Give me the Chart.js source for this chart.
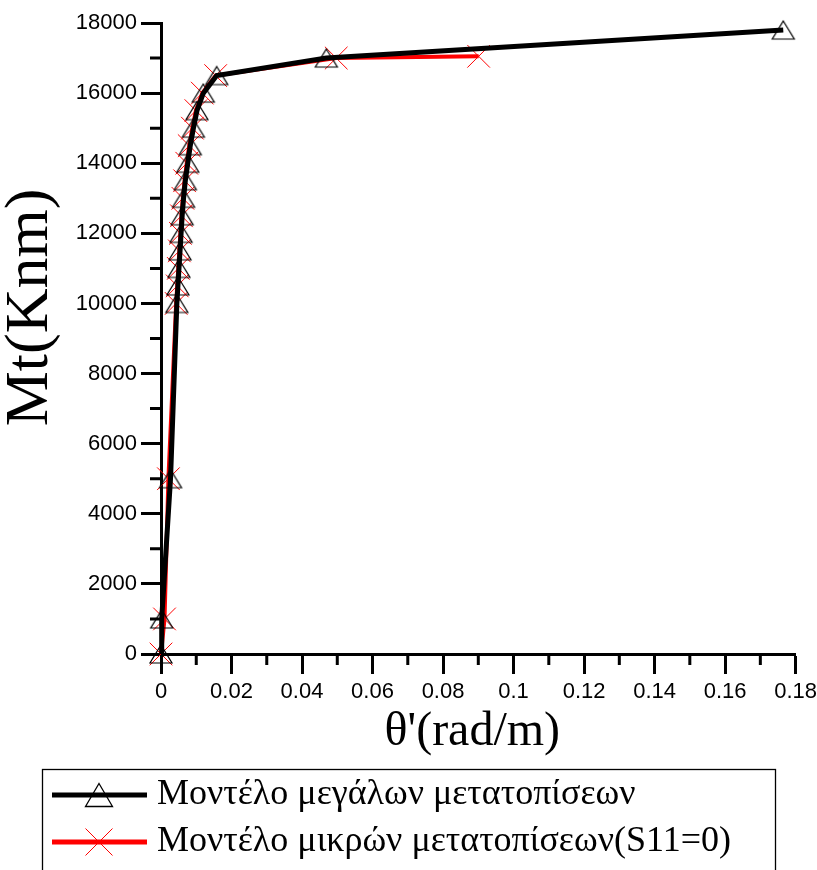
<!DOCTYPE html>
<html>
<head>
<meta charset="utf-8">
<script src="https://cdn.jsdelivr.net/npm/chart.js@4.4.0/dist/chart.umd.min.js"></script>
<style>
  html, body { margin: 0; padding: 0; background: #fff; }
  #wrap { width: 817px; height: 870px; position: relative; }
</style>
</head>
<body>
<div id="wrap"><canvas id="myChart"></canvas></div>
<script>
// series: theta' (rad/m) against Mt (Knm)
const largeTheta = [0, 0.0002, 0.0027, 0.0045, 0.0048, 0.0051, 0.0054, 0.0057, 0.0060, 0.0064, 0.0069, 0.0076, 0.0083, 0.0092, 0.0102, 0.0120, 0.0158, 0.0469, 0.1765];
const largeMt = [0, 1000, 5000, 10000, 10500, 11000, 11500, 12000, 12500, 13000, 13500, 14000, 14500, 15000, 15500, 16000, 16500, 17000, 17800];
const smallTheta = [0, 0.0010, 0.0021, 0.0043, 0.0046, 0.0049, 0.0052, 0.0055, 0.0058, 0.0062, 0.0067, 0.0073, 0.0080, 0.0089, 0.0099, 0.0117, 0.0155, 0.0497, 0.0901];
const smallMt = [0, 1000, 5000, 10000, 10500, 11000, 11500, 12000, 12500, 13000, 13500, 14000, 14500, 15000, 15500, 16000, 16500, 17000, 17050];
const seriesLabels = ['Μοντέλο μεγάλων μετατοπίσεων', 'Μοντέλο μικρών μετατοπίσεων(S11=0)'];

// tick values
const xTicks = [0, 0.02, 0.04, 0.06, 0.08, 0.1, 0.12, 0.14, 0.16, 0.18];
const xMinor = [0.01, 0.03, 0.05, 0.07, 0.09, 0.11, 0.13, 0.15, 0.17];
const yTicks = [0, 2000, 4000, 6000, 8000, 10000, 12000, 14000, 16000, 18000];
const yMinor = [1000, 3000, 5000, 7000, 9000, 11000, 13000, 15000, 17000];

function toPoints(xs, ys) {
    return xs.map((v, i) => ({ x: v, y: ys[i] }));
}

// hollow triangle marker, centred on its bounding box
function triangleMarker(w, h, lw) {
    const c = document.createElement('canvas');
    c.width = w + 4; c.height = h + 4;
    const g = c.getContext('2d');
    g.strokeStyle = '#000';
    g.lineWidth = lw;
    g.beginPath();
    g.moveTo(c.width / 2, 2);
    g.lineTo(c.width - 2, h + 2);
    g.lineTo(2, h + 2);
    g.closePath();
    g.stroke();
    return c;
}

// legend sample: line with marker on it
function legendSample(color, kind) {
    const c = document.createElement('canvas');
    c.width = 144; c.height = 40;
    const g = c.getContext('2d');
    g.strokeStyle = color;
    g.lineWidth = 5;
    g.beginPath();
    g.moveTo(49, 20); g.lineTo(144, 20);
    g.stroke();
    const cx = 96, cy = 20;
    g.beginPath();
    if (kind === 'triangle') {
        g.strokeStyle = '#000';
        g.lineWidth = 1.3;
        g.moveTo(cx, cy - 11.5);
        g.lineTo(cx + 13.5, cy + 11.5);
        g.lineTo(cx - 13.5, cy + 11.5);
        g.closePath();
    } else {
        g.strokeStyle = color;
        g.lineWidth = 1;
        g.moveTo(cx - 13.5, cy - 13.5); g.lineTo(cx + 13.5, cy + 13.5);
        g.moveTo(cx + 13.5, cy - 13.5); g.lineTo(cx - 13.5, cy + 13.5);
    }
    g.stroke();
    return c;
}

const triImg = triangleMarker(22, 18, 1.2);
const samples = [legendSample('#000', 'triangle'), legendSample('#ff0000', 'cross')];

// short minor ticks between the labelled ones
const minorTicks = {
    id: 'minorTicks',
    beforeDatasetsDraw(chart) {
        const { ctx, chartArea, scales: { x, y } } = chart;
        ctx.save();
        ctx.strokeStyle = '#000';
        ctx.lineWidth = 3;
        ctx.beginPath();
        xMinor.forEach(v => {
            const px = x.getPixelForValue(v);
            ctx.moveTo(px, chartArea.bottom);
            ctx.lineTo(px, chartArea.bottom + 11);
        });
        yMinor.forEach(v => {
            const py = y.getPixelForValue(v);
            ctx.moveTo(chartArea.left, py);
            ctx.lineTo(chartArea.left - 11, py);
        });
        ctx.stroke();
        ctx.restore();
    }
};

// frame around the legend
const legendFrame = {
    id: 'legendFrame',
    afterDraw(chart) {
        const lg = chart.legend;
        const ctx = chart.ctx;
        ctx.save();
        ctx.strokeStyle = '#000';
        ctx.lineWidth = 1.3;
        ctx.strokeRect(lg.left + 42.5, lg.top + 3.5, 733, lg.height + 20);
        ctx.restore();
    }
};

Chart.defaults.font.family = 'Liberation Sans';
Chart.defaults.color = '#000';

const ctx = document.getElementById('myChart').getContext('2d');
const myChart = new Chart(ctx, {
    type: 'scatter',
    data: {
        datasets: [{
            label: seriesLabels[0],
            data: toPoints(largeTheta, largeMt),
            showLine: true,
            borderColor: '#000',
            borderWidth: 5,
            pointStyle: triImg,
            pointRadius: 11,
            clip: false
        }, {
            label: seriesLabels[1],
            data: toPoints(smallTheta, smallMt),
            showLine: true,
            borderColor: '#ff0000',
            borderWidth: 4,
            pointStyle: 'crossRot',
            pointRadius: 16,
            pointBorderColor: '#ff0000',
            pointBorderWidth: 1,
            clip: false
        }]
    },
    options: {
        animation: false,
        responsive: true,
        maintainAspectRatio: false,
        layout: { padding: { top: 23, right: 18, left: 0, bottom: 0 } },
        plugins: {
            tooltip: { enabled: false },
            legend: {
                position: 'bottom',
                align: 'start',
                labels: {
                    usePointStyle: true,
                    pointStyleWidth: 128,
                    padding: 11,
                    color: '#000',
                    font: { family: 'Liberation Serif', size: 36 },
                    generateLabels: chart => chart.data.datasets.map((ds, i) => ({
                        text: ds.label,
                        pointStyle: samples[i],
                        datasetIndex: i,
                        hidden: false,
                        lineWidth: 0,
                        fontColor: '#000'
                    }))
                }
            }
        },
        scales: {
            x: {
                type: 'linear',
                position: 'bottom',
                min: 0,
                max: 0.18,
                afterBuildTicks: s => { s.ticks = xTicks.map(v => ({ value: v })); },
                afterFit: s => { s.height = 112; },
                border: { display: true, color: '#000', width: 3 },
                grid: { drawOnChartArea: false, tickLength: 20, tickWidth: 3, tickColor: '#000' },
                ticks: {
                    padding: 0,
                    color: '#000',
                    maxRotation: 0,
                    font: { family: 'Liberation Sans', size: 22, lineHeight: 1.64 },
                    callback: v => String(+v.toFixed(2))
                },
                title: {
                    display: true,
                    text: "θ'(rad/m) ",
                    color: '#000',
                    padding: { top: 0, bottom: 10 },
                    font: { family: 'Liberation Serif', size: 48, lineHeight: 1 }
                }
            },
            y: {
                type: 'linear',
                position: 'left',
                min: 0,
                max: 18000,
                afterBuildTicks: s => { s.ticks = yTicks.map(v => ({ value: v })); },
                afterFit: s => { s.width = 161; },
                border: { display: true, color: '#000', width: 3 },
                grid: { drawOnChartArea: false, tickLength: 20, tickWidth: 3, tickColor: '#000' },
                ticks: {
                    padding: 4,
                    color: '#000',
                    font: { family: 'Liberation Sans', size: 22 },
                    callback: v => String(v)
                },
                title: {
                    display: true,
                    text: '    Mt(Knm)',
                    color: '#000',
                    padding: { top: 0, bottom: 0 },
                    font: { family: 'Liberation Serif', size: 62, lineHeight: 1 }
                }
            }
        }
    },
    plugins: [minorTicks, legendFrame]
});
</script>
</body>
</html>
